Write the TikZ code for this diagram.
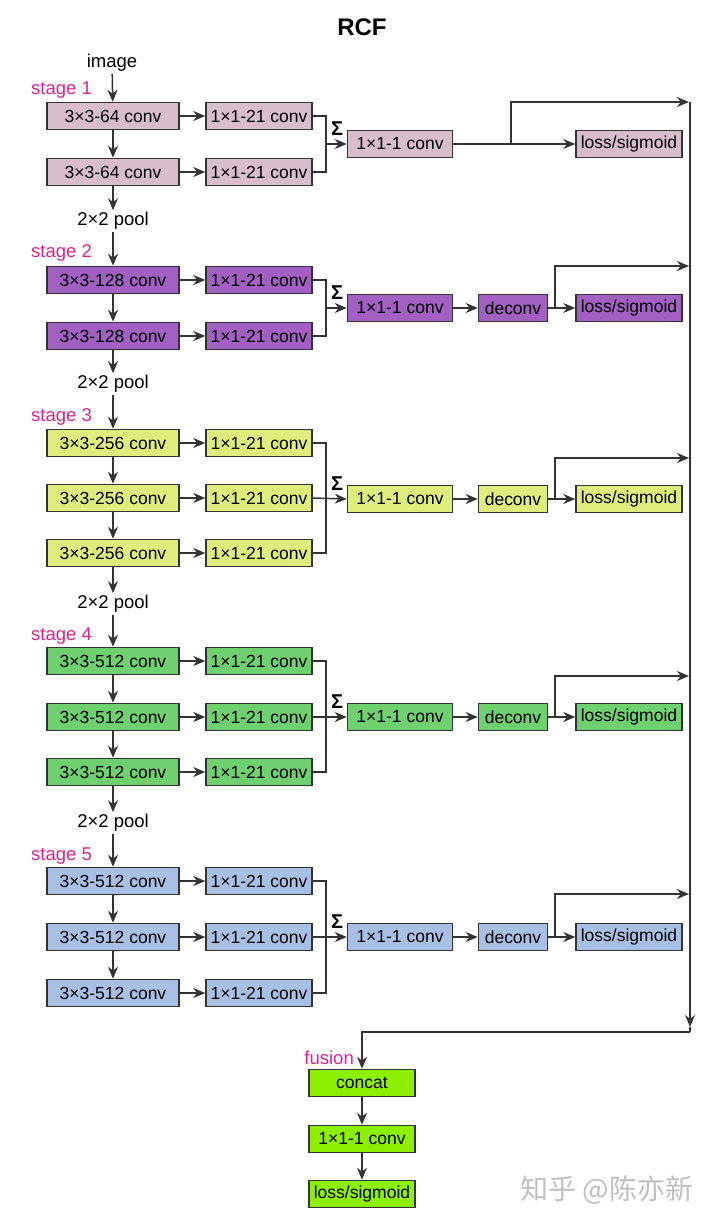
\documentclass[tikz,border=0pt]{standalone}
\usepackage{fontspec}
\setmainfont{Liberation Sans}
\newfontfamily\cjkfont{Noto Sans CJK SC}
\usetikzlibrary{arrows.meta}
\definecolor{cSa}{HTML}{D8BDCB}
\definecolor{cSb}{HTML}{A160C2}
\definecolor{cSc}{HTML}{DDEE7C}
\definecolor{cSd}{HTML}{6FD06F}
\definecolor{cSe}{HTML}{A8C0E5}
\definecolor{cFu}{HTML}{8CF000}
\definecolor{stagemag}{HTML}{E0208C}
\definecolor{edge}{HTML}{333333}
\begin{document}
\begin{tikzpicture}[x=1pt,y=-1pt,
  box/.style={draw=edge, line width=1.5pt, minimum height=27pt, inner sep=0pt, font=\fontsize{17.5}{19}\selectfont},
  cA/.style={box, minimum width=132pt},
  cB/.style={box, minimum width=106pt},
  cC/.style={box, minimum width=105pt},
  cD/.style={box, minimum width=69pt},
  arr/.style={-{Stealth[length=12pt,width=10pt]}, line width=1.5pt, draw=edge},
  ln/.style={line width=1.5pt, draw=edge},
  lbl/.style={font=\fontsize{18.5}{20}\selectfont, inner sep=2pt},
  stg/.style={font=\fontsize{18.5}{20}\selectfont, text=stagemag, anchor=west, inner sep=0pt},
  sig/.style={font=\bfseries\fontsize{20}{22}\selectfont, inner sep=0pt}
]
\useasboundingbox (0,0) rectangle (720,1232);
\node[font=\bfseries\fontsize{24}{27}\selectfont] (title) at (362,27) {RCF};
\coordinate (sx) at (326,0);

% input
\node[lbl] (img) at (112,63) {image};

% ---------- stage 1
\node[stg] (st1) at (31,90) {stage 1};
\node[cA,fill=cSa] (s1a) at (113,116) {3×3-64 conv};
\node[cA,fill=cSa] (s1b) at (113,172) {3×3-64 conv};
\node[cB,fill=cSa] (s1p) at (259,116) {1×1-21 conv};
\node[cB,fill=cSa] (s1q) at (259,172) {1×1-21 conv};
\node[cC,fill=cSa] (s1c) at (400,144) {1×1-1 conv};
\node[cB,fill=cSa] (s1l) at (629,144) {loss/sigmoid};
\node[sig] (s1s) at (337,129) {Σ};
\coordinate (s1k) at (511,144);
\coordinate (s1o) at (689,102);
\draw[arr] (img) -- (s1a);
\draw[arr] (s1a) -- (s1b);
\draw[arr] (s1a) -- (s1p);
\draw[arr] (s1b) -- (s1q);
\draw[ln] (s1p.east) -- (s1p.east -| sx) |- (s1q.east);
\draw[arr] (s1c.west -| sx) -- (s1c.west);
\draw[arr] (s1c) -- (s1l);
\draw[arr] (s1k) |- (s1o);
\node[lbl] (pl1) at (113,221) {2×2 pool};
\draw[arr] (s1b) -- (pl1);

% ---------- stage 2
\node[stg] (st2) at (31,253) {stage 2};
\node[cA,fill=cSb] (s2a) at (113,280) {3×3-128 conv};
\node[cA,fill=cSb] (s2b) at (113,336) {3×3-128 conv};
\node[cB,fill=cSb] (s2p) at (259,280) {1×1-21 conv};
\node[cB,fill=cSb] (s2q) at (259,336) {1×1-21 conv};
\node[cC,fill=cSb] (s2c) at (400,308) {1×1-1 conv};
\node[cD,fill=cSb] (s2d) at (513,308) {deconv};
\node[cB,fill=cSb] (s2l) at (629,308) {loss/sigmoid};
\node[sig] (s2s) at (337,293) {Σ};
\coordinate (s2k) at (555,308);
\coordinate (s2o) at (689,266);
\draw[arr] (pl1) -- (s2a);
\draw[arr] (s2a) -- (s2b);
\draw[arr] (s2a) -- (s2p);
\draw[arr] (s2b) -- (s2q);
\draw[ln] (s2p.east) -- (s2p.east -| sx) |- (s2q.east);
\draw[arr] (s2c.west -| sx) -- (s2c.west);
\draw[arr] (s2c) -- (s2d);
\draw[arr] (s2d) -- (s2l);
\draw[arr] (s2k) |- (s2o);
\node[lbl] (pl2) at (113,384) {2×2 pool};
\draw[arr] (s2b) -- (pl2);

% ---------- stage 3
\node[stg] (st3) at (31,417) {stage 3};
\node[cA,fill=cSc] (s3a) at (113,443) {3×3-256 conv};
\node[cA,fill=cSc] (s3b) at (113,498) {3×3-256 conv};
\node[cA,fill=cSc] (s3e) at (113,553) {3×3-256 conv};
\node[cB,fill=cSc] (s3p) at (259,443) {1×1-21 conv};
\node[cB,fill=cSc] (s3q) at (259,498) {1×1-21 conv};
\node[cB,fill=cSc] (s3r) at (259,553) {1×1-21 conv};
\node[cC,fill=cSc] (s3c) at (400,499) {1×1-1 conv};
\node[cD,fill=cSc] (s3d) at (513,499) {deconv};
\node[cB,fill=cSc] (s3l) at (629,499) {loss/sigmoid};
\node[sig] (s3s) at (337,484) {Σ};
\coordinate (s3k) at (555,499);
\coordinate (s3o) at (689,458);
\draw[arr] (pl2) -- (s3a);
\draw[arr] (s3a) -- (s3b);
\draw[arr] (s3b) -- (s3e);
\draw[arr] (s3a) -- (s3p);
\draw[arr] (s3b) -- (s3q);
\draw[arr] (s3e) -- (s3r);
\draw[ln] (s3p.east) -- (s3p.east -| sx) |- (s3r.east);
\draw[arr] (s3q.east) -- (s3c.west);
\draw[arr] (s3c) -- (s3d);
\draw[arr] (s3d) -- (s3l);
\draw[arr] (s3k) |- (s3o);
\node[lbl] (pl3) at (113,604) {2×2 pool};
\draw[arr] (s3e) -- (pl3);

% ---------- stage 4
\node[stg] (st4) at (31,636) {stage 4};
\node[cA,fill=cSd] (s4a) at (113,661) {3×3-512 conv};
\node[cA,fill=cSd] (s4b) at (113,717) {3×3-512 conv};
\node[cA,fill=cSd] (s4e) at (113,772) {3×3-512 conv};
\node[cB,fill=cSd] (s4p) at (259,661) {1×1-21 conv};
\node[cB,fill=cSd] (s4q) at (259,717) {1×1-21 conv};
\node[cB,fill=cSd] (s4r) at (259,772) {1×1-21 conv};
\node[cC,fill=cSd] (s4c) at (400,717) {1×1-1 conv};
\node[cD,fill=cSd] (s4d) at (513,717) {deconv};
\node[cB,fill=cSd] (s4l) at (629,717) {loss/sigmoid};
\node[sig] (s4s) at (337,702) {Σ};
\coordinate (s4k) at (555,717);
\coordinate (s4o) at (689,676);
\draw[arr] (pl3) -- (s4a);
\draw[arr] (s4a) -- (s4b);
\draw[arr] (s4b) -- (s4e);
\draw[arr] (s4a) -- (s4p);
\draw[arr] (s4b) -- (s4q);
\draw[arr] (s4e) -- (s4r);
\draw[ln] (s4p.east) -- (s4p.east -| sx) |- (s4r.east);
\draw[arr] (s4q.east) -- (s4c.west);
\draw[arr] (s4c) -- (s4d);
\draw[arr] (s4d) -- (s4l);
\draw[arr] (s4k) |- (s4o);
\node[lbl] (pl4) at (113,823) {2×2 pool};
\draw[arr] (s4e) -- (pl4);

% ---------- stage 5
\node[stg] (st5) at (31,856) {stage 5};
\node[cA,fill=cSe] (s5a) at (113,881) {3×3-512 conv};
\node[cA,fill=cSe] (s5b) at (113,937) {3×3-512 conv};
\node[cA,fill=cSe] (s5e) at (113,993) {3×3-512 conv};
\node[cB,fill=cSe] (s5p) at (259,881) {1×1-21 conv};
\node[cB,fill=cSe] (s5q) at (259,937) {1×1-21 conv};
\node[cB,fill=cSe] (s5r) at (259,993) {1×1-21 conv};
\node[cC,fill=cSe] (s5c) at (400,937) {1×1-1 conv};
\node[cD,fill=cSe] (s5d) at (513,937) {deconv};
\node[cB,fill=cSe] (s5l) at (629,937) {loss/sigmoid};
\node[sig] (s5s) at (337,922) {Σ};
\coordinate (s5k) at (555,937);
\coordinate (s5o) at (689,894);
\draw[arr] (pl4) -- (s5a);
\draw[arr] (s5a) -- (s5b);
\draw[arr] (s5b) -- (s5e);
\draw[arr] (s5a) -- (s5p);
\draw[arr] (s5b) -- (s5q);
\draw[arr] (s5e) -- (s5r);
\draw[ln] (s5p.east) -- (s5p.east -| sx) |- (s5r.east);
\draw[arr] (s5q.east) -- (s5c.west);
\draw[arr] (s5c) -- (s5d);
\draw[arr] (s5d) -- (s5l);
\draw[arr] (s5k) |- (s5o);

% ---------- right bus and fusion
\coordinate (busT) at (690,102);
\coordinate (busA) at (690,1027);
\coordinate (busB) at (690,1032);
\node[stg, anchor=east] (fl) at (354,1058) {fusion};
\node[cB,fill=cFu] (fa) at (362,1083) {concat};
\node[cB,fill=cFu] (fb) at (362,1139) {1×1-1 conv};
\node[cB,fill=cFu] (fc) at (362,1194) {loss/sigmoid};
\draw[arr] (busT) -- (busA);
\draw[ln] (busA) -- (busB);
\draw[arr] (busB) -| (fa.north);
\draw[arr] (fa) -- (fb);
\draw[arr] (fb) -- (fc);

% watermark
\node[text=black!25, font=\cjkfont\fontsize{28}{30}\selectfont] (wm) at (607,1190) {知乎 @陈亦新};
\end{tikzpicture}
\end{document}
